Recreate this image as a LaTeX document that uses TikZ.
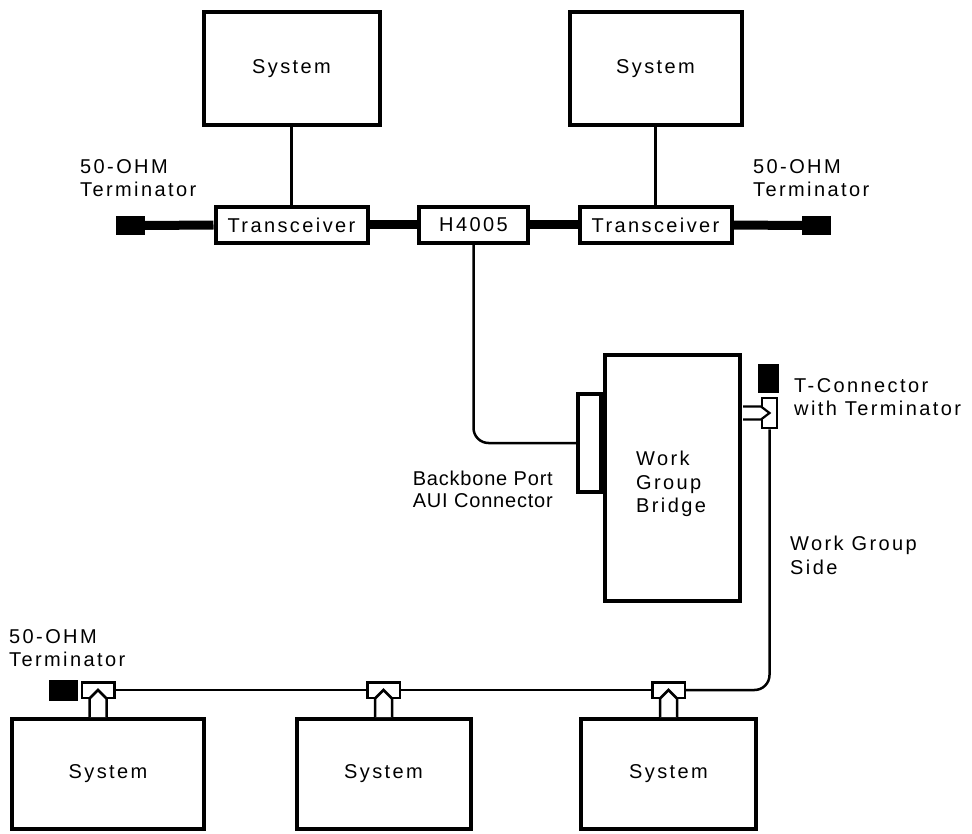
\documentclass[tikz,border=0pt]{standalone}
\usepackage{fontspec}
\setmainfont{Liberation Sans}
\newfontfamily\lsp[LetterSpace=12]{Liberation Sans}
\newfontfamily\lspb[LetterSpace=4]{Liberation Sans}
\begin{document}
\begin{tikzpicture}[x=1pt,y=-1pt,
  box/.style={draw,line width=4,fill=white,inner sep=0,font=\lsp\fontsize{20}{23}\selectfont},
  thinline/.style={line width=2.5},
  coax/.style={line width=9},
  term/.style={fill=black,draw=none,inner sep=0},
  tbox/.style={draw,line width=2.5,fill=white,inner sep=0},
  lbl/.style={inner sep=0,anchor=base west,font=\lsp\fontsize{20}{23.5}\selectfont},
  lblb/.style={inner sep=0,anchor=base east,font=\lspb\fontsize{20}{23}\selectfont},
]
\useasboundingbox (0,0) rectangle (972,834);

% top systems
\node[box,minimum width=176,minimum height=113] (sysA) at (291.5,68.5) {System};
\node[box,minimum width=172,minimum height=113] (sysB) at (655.5,68.5) {System};
% transceivers and H4005
\node[box,minimum width=152,minimum height=36] (trA) at (291.5,225) {Transceiver};
\node[box,minimum width=152,minimum height=36] (trB) at (655.5,225) {Transceiver};
\node[box,minimum width=109,minimum height=36] (h) at (473.5,225) {H4005};
% terminators
\node[term,minimum width=29,minimum height=19] (tA) at (130.5,225.5) {};
\node[term,minimum width=29,minimum height=19] (tB) at (816.5,225.5) {};

\draw[thinline] (sysA) -- (trA);
\draw[thinline] (sysB) -- (trB);
\draw[coax] (tA.east) -- (trA.west);
\draw[coax] (trA.east) -- (h.west);
\draw[coax] (h.east) -- (trB.west);
\draw[coax] (trB.east) -- (tB.west);

% bridge
\node[box,minimum width=23,minimum height=98] (port) at (589.5,443) {};
\node[box,minimum width=135,minimum height=246] (bridge) at (672.5,478) {};
\node[lbl,anchor=north west,align=left] (bridgetxt) at (636,451) {Work\\Group\\Bridge};
\draw[thinline,rounded corners=15] (h.south) |- (port.west);

% right T connector with terminator
\node[tbox,minimum width=15,minimum height=30] (rt) at (769.5,413) {};
\node[term,minimum width=21,minimum height=29] (tC) at (768.5,378.5) {};
\fill[white] (743,406.5) -- (761,406.5) -- (769.5,413) -- (761,419.5) -- (743,419.5) -- cycle;
\draw[line width=2.2,line join=miter] (743,406.5) -- (761,406.5) -- (769.5,413) -- (761,419.5) -- (743,419.5);

% bottom systems
\node[box,minimum width=192,minimum height=110] (sysL) at (108,774) {System};
\node[box,minimum width=174,minimum height=110] (sysM) at (383.5,774) {System};
\node[box,minimum width=175,minimum height=110] (sysR) at (668.5,774) {System};

% bottom T connectors
\node[tbox,minimum width=32.5,minimum height=15.5] (tL) at (98,690) {};
\node[tbox,minimum width=32.5,minimum height=15.5] (tM) at (383.5,690) {};
\node[tbox,minimum width=32.5,minimum height=15.5] (tR) at (668.5,690) {};
\node[term,minimum width=29,minimum height=21] (tD) at (63.5,690.5) {};

\foreach \cx in {98,383.5,668.5}{
  \fill[white] (\cx-8.5,717) -- (\cx-8.5,698.5) -- (\cx,690) -- (\cx+8.5,698.5) -- (\cx+8.5,717) -- cycle;
  \draw[line width=2.5,line join=miter] (\cx-8.5,717) -- (\cx-8.5,698.5) -- (\cx,690) -- (\cx+8.5,698.5) -- (\cx+8.5,717);
}

\draw[thinline] (tL.east) -- (tM.west);
\draw[thinline] (tM.east) -- (tR.west);
\draw[thinline,rounded corners=15] (tR.east) -| (rt.south);

% labels
\node[lbl] (l1a) at (80,174) {50-OHM};
\node[lbl] (l1b) at (80,197) {Terminator};
\node[lbl] (l2a) at (753,174) {50-OHM};
\node[lbl] (l2b) at (753,197) {Terminator};
\node[lbl] (l3a) at (794,392) {T-Connector};
\node[lbl] (l3b) at (794,415) {with Terminator};
\node[lblb] (l4a) at (553,485) {Backbone Port};
\node[lblb] (l4b) at (553,507) {AUI Connector};
\node[lbl] (l5a) at (790,550) {Work Group};
\node[lbl] (l5b) at (790,574) {Side};
\node[lbl] (l6a) at (9,643) {50-OHM};
\node[lbl] (l6b) at (9,666) {Terminator};
\end{tikzpicture}
\end{document}
